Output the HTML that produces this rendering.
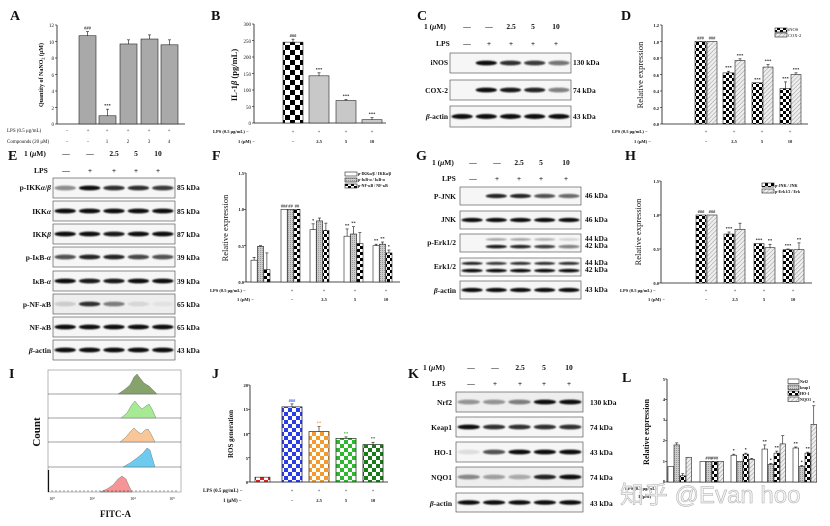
<!DOCTYPE html>
<html><head><meta charset="utf-8"><style>
html,body{margin:0;padding:0;background:#fff;}
svg{display:block;}
text{font-family:"Liberation Serif","Noto Serif CJK SC",serif;font-weight:bold;fill:#111;}
.pl{font-size:14px;}
.bl{font-size:7.5px;}
.sm{font-size:5px;font-weight:normal;}
.xs{font-size:4.5px;}
.ax{stroke:#111;stroke-width:1;fill:none;}
</style></head><body>
<svg id="s" width="830" height="526" viewBox="0 0 830 526" xmlns="http://www.w3.org/2000/svg">
<defs>
<pattern id="chk" width="6" height="6" patternUnits="userSpaceOnUse"><rect width="6" height="6" fill="#fff"/><rect width="3" height="3" fill="#000"/><rect x="3" y="3" width="3" height="3" fill="#000"/></pattern>
<pattern id="chkb" width="10" height="10" patternUnits="userSpaceOnUse"><rect width="10" height="10" fill="#fff"/><rect width="5" height="5" fill="#000"/><rect x="5" y="5" width="5" height="5" fill="#000"/></pattern>
<pattern id="hat" width="3" height="3" patternUnits="userSpaceOnUse" patternTransform="rotate(45)"><rect width="3" height="3" fill="#eee"/><line x1="0" y1="0" x2="0" y2="3" stroke="#999" stroke-width="1"/></pattern>
<pattern id="dot" width="2" height="2" patternUnits="userSpaceOnUse"><rect width="2" height="2" fill="#ccc"/><rect width="1" height="1" fill="#999"/></pattern>
<pattern id="cb" width="8" height="8" patternUnits="userSpaceOnUse"><rect width="8" height="8" fill="#fff"/><rect width="4" height="4" fill="#2a3ee8"/><rect x="4" y="4" width="4" height="4" fill="#2a3ee8"/></pattern>
<pattern id="co" width="8" height="8" patternUnits="userSpaceOnUse"><rect width="8" height="8" fill="#fff"/><rect width="4" height="4" fill="#f39a2a"/><rect x="4" y="4" width="4" height="4" fill="#f39a2a"/></pattern>
<pattern id="cg" width="8" height="8" patternUnits="userSpaceOnUse"><rect width="8" height="8" fill="#fff"/><rect width="4" height="4" fill="#2eb82e"/><rect x="4" y="4" width="4" height="4" fill="#2eb82e"/></pattern>
<pattern id="cd" width="8" height="8" patternUnits="userSpaceOnUse"><rect width="8" height="8" fill="#fff"/><rect width="4" height="4" fill="#1a7a1a"/><rect x="4" y="4" width="4" height="4" fill="#1a7a1a"/></pattern>
<pattern id="cr" width="8" height="8" patternUnits="userSpaceOnUse"><rect width="8" height="8" fill="#fff"/><rect width="4" height="4" fill="#d22"/><rect x="4" y="4" width="4" height="4" fill="#d22"/></pattern>
<filter id="bl" x="-20%" y="-50%" width="140%" height="200%"><feGaussianBlur stdDeviation="0.8"/></filter>
</defs>
<g id="g"></g>

<!-- panel letters -->
<text class="pl" x="10" y="20">A</text>
<text class="pl" x="211" y="20">B</text>
<text class="pl" x="417" y="20">C</text>
<text class="pl" x="621" y="20">D</text>
<text class="pl" x="8" y="160">E</text>
<text class="pl" x="212" y="160">F</text>
<text class="pl" x="416" y="160">G</text>
<text class="pl" x="625" y="160">H</text>
<text class="pl" x="9" y="378">I</text>
<text class="pl" x="212" y="378">J</text>
<text class="pl" x="408" y="378">K</text>
<text class="pl" x="622" y="382">L</text>

<!-- A -->
<g class="sm" text-anchor="end">
<text class="sm" x="54" y="126">0</text><text class="sm" x="54" y="110">2</text><text class="sm" x="54" y="93">4</text><text class="sm" x="54" y="77">6</text><text class="sm" x="54" y="60">8</text><text class="sm" x="54" y="44">10</text><text class="sm" x="54" y="27">12</text>
</g>
<text class="sm" transform="translate(43,75) rotate(-90)" text-anchor="middle" style="font-size:6px;font-weight:bold">Quantity of NaNO<tspan font-size="4" dy="1.5">2</tspan><tspan dy="-1.5"> (μM)</tspan></text>
<text class="sm" x="7" y="132">LPS (0.5 μg/mL)</text>
<text class="sm" x="7" y="143">Compounds (20 μM)</text>
<g class="sm" text-anchor="middle">
<text class="sm" x="67" y="132">−</text><text class="sm" x="88" y="132">+</text><text class="sm" x="107" y="132">+</text><text class="sm" x="128" y="132">+</text><text class="sm" x="149" y="132">+</text><text class="sm" x="169" y="132">+</text>
<text class="sm" x="67" y="143">−</text><text class="sm" x="88" y="143">−</text><text class="sm" x="107" y="143">1</text><text class="sm" x="128" y="143">2</text><text class="sm" x="149" y="143">3</text><text class="sm" x="169" y="143">4</text>
</g>

<!-- B -->
<g text-anchor="end">
<text class="sm" x="251" y="125">0</text><text class="sm" x="251" y="109">50</text><text class="sm" x="251" y="92">100</text><text class="sm" x="251" y="76">150</text><text class="sm" x="251" y="59">200</text><text class="sm" x="251" y="43">250</text><text class="sm" x="251" y="26">300</text>
</g>
<text transform="translate(237,75) rotate(-90)" text-anchor="middle" style="font-size:8.5px">IL-1<tspan font-style="italic">β</tspan> (pg/mL)</text>
<text class="xs" x="213" y="133">LPS (0.5 μg/mL)  −</text>
<text class="xs" x="238" y="143">1 (μM)  −</text>
<g text-anchor="middle" class="xs">
<text class="xs" x="293" y="133">+</text><text class="xs" x="319" y="133">+</text><text class="xs" x="346" y="133">+</text><text class="xs" x="372" y="133">+</text>
<text class="xs" x="293" y="143">−</text><text class="xs" x="319" y="143">2.5</text><text class="xs" x="346" y="143">5</text><text class="xs" x="372" y="143">10</text>
</g>

<!-- C -->
<text class="bl" x="424" y="29">1 (<tspan font-style="italic">μ</tspan>M)</text>
<text class="bl" x="436" y="46">LPS</text>
<g class="bl" text-anchor="middle">
<text class="bl" x="467" y="29">—</text><text class="bl" x="489" y="29">—</text><text class="bl" x="511" y="29">2.5</text><text class="bl" x="533" y="29">5</text><text class="bl" x="556" y="29">10</text>
<text class="bl" x="467" y="46">—</text><text class="bl" x="489" y="46">+</text><text class="bl" x="511" y="46">+</text><text class="bl" x="533" y="46">+</text><text class="bl" x="556" y="46">+</text>
</g>
<g class="bl" text-anchor="end">
<text class="bl" x="448" y="65">iNOS</text><text class="bl" x="448" y="93">COX-2</text><text class="bl" x="448" y="119"><tspan font-style="italic">β</tspan>-actin</text>
</g>
<text class="bl" x="573" y="65">130 kDa</text><text class="bl" x="573" y="93">74 kDa</text><text class="bl" x="573" y="119">43 kDa</text>

<!-- D -->
<g text-anchor="end">
<text class="xs" x="659" y="126">0.0</text><text class="xs" x="659" y="110">0.2</text><text class="xs" x="659" y="93">0.4</text><text class="xs" x="659" y="77">0.6</text><text class="xs" x="659" y="60">0.8</text><text class="xs" x="659" y="44">1.0</text><text class="xs" x="659" y="27">1.2</text>
</g>
<text transform="translate(643,75) rotate(-90)" text-anchor="middle" style="font-size:8.5px;font-weight:normal">Relative expression</text>
<text class="xs" x="612" y="133">LPS (0.5 μg/mL)  −</text>
<text class="xs" x="634" y="143">1 (μM)  −</text>
<g text-anchor="middle">
<text class="xs" x="706" y="133">+</text><text class="xs" x="734" y="133">+</text><text class="xs" x="762" y="133">+</text><text class="xs" x="790" y="133">+</text>
<text class="xs" x="706" y="143">−</text><text class="xs" x="734" y="143">2.5</text><text class="xs" x="762" y="143">5</text><text class="xs" x="790" y="143">10</text>
</g>
<text class="xs" x="788" y="31" style="font-weight:normal">iNOS</text><text class="xs" x="788" y="37" style="font-weight:normal">COX-2</text>

<!-- E -->
<text class="bl" x="24" y="156">1 (<tspan font-style="italic">μ</tspan>M)</text>
<text class="bl" x="34" y="173">LPS</text>
<g class="bl" text-anchor="middle">
<text class="bl" x="66" y="156">—</text><text class="bl" x="90" y="156">—</text><text class="bl" x="114" y="156">2.5</text><text class="bl" x="136" y="156">5</text><text class="bl" x="158" y="156">10</text>
<text class="bl" x="66" y="173">—</text><text class="bl" x="90" y="173">+</text><text class="bl" x="114" y="173">+</text><text class="bl" x="136" y="173">+</text><text class="bl" x="158" y="173">+</text>
</g>
<g class="bl" text-anchor="end">
<text class="bl" x="51" y="190">p-IKK<tspan font-style="italic">α</tspan>/<tspan font-style="italic">β</tspan></text>
<text class="bl" x="51" y="214">IKK<tspan font-style="italic">α</tspan></text>
<text class="bl" x="51" y="237">IKK<tspan font-style="italic">β</tspan></text>
<text class="bl" x="51" y="260">p-I<tspan font-style="italic">κ</tspan>B-<tspan font-style="italic">α</tspan></text>
<text class="bl" x="51" y="284">I<tspan font-style="italic">κ</tspan>B-<tspan font-style="italic">α</tspan></text>
<text class="bl" x="51" y="307">p-NF-<tspan font-style="italic">κ</tspan>B</text>
<text class="bl" x="51" y="330">NF-<tspan font-style="italic">κ</tspan>B</text>
<text class="bl" x="51" y="353"><tspan font-style="italic">β</tspan>-actin</text>
</g>
<g class="bl">
<text class="bl" x="177" y="190">85 kDa</text><text class="bl" x="177" y="214">85 kDa</text><text class="bl" x="177" y="237">87 kDa</text><text class="bl" x="177" y="260">39 kDa</text><text class="bl" x="177" y="284">39 kDa</text><text class="bl" x="177" y="307">65 kDa</text><text class="bl" x="177" y="330">65 kDa</text><text class="bl" x="177" y="353">43 kDa</text>
</g>

<!-- F -->
<g text-anchor="end">
<text class="xs" x="244" y="284">0.0</text><text class="xs" x="244" y="248">0.5</text><text class="xs" x="244" y="211">1.0</text><text class="xs" x="244" y="175">1.5</text>
</g>
<text transform="translate(228,228) rotate(-90)" text-anchor="middle" style="font-size:8.5px;font-weight:normal">Relative expression</text>
<text class="xs" x="210" y="292">LPS (0.5 μg/mL)  −</text>
<text class="xs" x="237" y="301">1 (μM)  −</text>
<g text-anchor="middle">
<text class="xs" x="292" y="292">+</text><text class="xs" x="324" y="292">+</text><text class="xs" x="355" y="292">+</text><text class="xs" x="386" y="292">+</text>
<text class="xs" x="292" y="301">−</text><text class="xs" x="324" y="301">2.5</text><text class="xs" x="355" y="301">5</text><text class="xs" x="386" y="301">10</text>
</g>
<text class="xs" x="358" y="175" style="font-size:4px">p-IKKα/β / IKKα/β</text>
<text class="xs" x="358" y="181" style="font-size:4px">p-IκB-α / IκB-α</text>
<text class="xs" x="358" y="187" style="font-size:4px">p-NF-κB / NF-κB</text>

<!-- G -->
<text class="bl" x="432" y="165">1 (<tspan font-style="italic">μ</tspan>M)</text>
<text class="bl" x="442" y="181">LPS</text>
<g class="bl" text-anchor="middle">
<text class="bl" x="473" y="165">—</text><text class="bl" x="497" y="165">—</text><text class="bl" x="519" y="165">2.5</text><text class="bl" x="541" y="165">5</text><text class="bl" x="566" y="165">10</text>
<text class="bl" x="473" y="181">—</text><text class="bl" x="497" y="181">+</text><text class="bl" x="519" y="181">+</text><text class="bl" x="541" y="181">+</text><text class="bl" x="566" y="181">+</text>
</g>
<g class="bl" text-anchor="end">
<text class="bl" x="456" y="199">P-JNK</text><text class="bl" x="456" y="222">JNK</text><text class="bl" x="456" y="245">p-Erk1/2</text><text class="bl" x="456" y="269">Erk1/2</text><text class="bl" x="456" y="293"><tspan font-style="italic">β</tspan>-actin</text>
</g>
<text class="bl" x="585" y="198">46 kDa</text><text class="bl" x="585" y="222">46 kDa</text><text class="bl" x="585" y="241">44 kDa</text><text class="bl" x="585" y="248">42 kDa</text><text class="bl" x="585" y="265">44 kDa</text><text class="bl" x="585" y="272">42 kDa</text><text class="bl" x="585" y="292">43 kDa</text>

<!-- H -->
<g text-anchor="end">
<text class="xs" x="659" y="285">0.0</text><text class="xs" x="659" y="251">0.5</text><text class="xs" x="659" y="217">1.0</text><text class="xs" x="659" y="183">1.5</text>
</g>
<text transform="translate(641,232) rotate(-90)" text-anchor="middle" style="font-size:8.5px;font-weight:normal">Relative expression</text>
<text class="xs" x="620" y="292">LPS (0.5 μg/mL)  −</text>
<text class="xs" x="648" y="301">1 (μM)  −</text>
<g text-anchor="middle">
<text class="xs" x="706" y="292">+</text><text class="xs" x="735" y="292">+</text><text class="xs" x="764" y="292">+</text><text class="xs" x="793" y="292">+</text>
<text class="xs" x="706" y="301">−</text><text class="xs" x="735" y="301">2.5</text><text class="xs" x="764" y="301">5</text><text class="xs" x="793" y="301">10</text>
</g>
<text class="xs" x="775" y="187" style="font-size:4px">p-JNK / JNK</text>
<text class="xs" x="775" y="193" style="font-size:4px">p-Erk1/2 / Erk</text>

<!-- I -->
<text transform="translate(40,432) rotate(-90)" text-anchor="middle" style="font-size:11px">Count</text>
<text x="100" y="517" style="font-size:9px">FITC-A</text>
<g text-anchor="middle" style="font-size:3.5px">
<text class="sm" x="52" y="500" style="font-size:4px">10⁰</text><text class="sm" x="92" y="500" style="font-size:4px">10²</text><text class="sm" x="133" y="500" style="font-size:4px">10⁴</text><text class="sm" x="172" y="500" style="font-size:4px">10⁵</text>
</g>

<!-- J -->
<g text-anchor="end">
<text class="xs" x="248" y="484">0</text><text class="xs" x="248" y="460">5</text><text class="xs" x="248" y="436">10</text><text class="xs" x="248" y="411">15</text><text class="xs" x="248" y="387">20</text>
</g>
<text transform="translate(233,434) rotate(-90)" text-anchor="middle" style="font-size:7px">ROS generation</text>
<text class="xs" x="203" y="492" style="font-size:5px">LPS (0.5 μg/mL)  −</text>
<text class="xs" x="223" y="502" style="font-size:5px">1 (μM)  −</text>
<g text-anchor="middle">
<text class="xs" x="292" y="492">+</text><text class="xs" x="319" y="492">+</text><text class="xs" x="346" y="492">+</text><text class="xs" x="373" y="492">+</text>
<text class="xs" x="292" y="502">−</text><text class="xs" x="319" y="502">2.5</text><text class="xs" x="346" y="502">5</text><text class="xs" x="373" y="502">10</text>
</g>

<!-- K -->
<text class="bl" x="423" y="370">1 (<tspan font-style="italic">μ</tspan>M)</text>
<text class="bl" x="432" y="386">LPS</text>
<g class="bl" text-anchor="middle">
<text class="bl" x="471" y="370">—</text><text class="bl" x="495" y="370">—</text><text class="bl" x="520" y="370">2.5</text><text class="bl" x="544" y="370">5</text><text class="bl" x="569" y="370">10</text>
<text class="bl" x="471" y="386">—</text><text class="bl" x="495" y="386">+</text><text class="bl" x="520" y="386">+</text><text class="bl" x="544" y="386">+</text><text class="bl" x="569" y="386">+</text>
</g>
<g class="bl" text-anchor="end">
<text class="bl" x="452" y="405">Nrf2</text><text class="bl" x="452" y="430">Keap1</text><text class="bl" x="452" y="455">HO-1</text><text class="bl" x="452" y="480">NQO1</text><text class="bl" x="452" y="506"><tspan font-style="italic">β</tspan>-actin</text>
</g>
<text class="bl" x="590" y="405">130 kDa</text><text class="bl" x="590" y="430">74 kDa</text><text class="bl" x="590" y="455">43 kDa</text><text class="bl" x="590" y="480">74 kDa</text><text class="bl" x="590" y="506">43 kDa</text>

<!-- L -->
<g text-anchor="end">
<text class="xs" x="665" y="483">0</text><text class="xs" x="665" y="463">1</text><text class="xs" x="665" y="442">2</text><text class="xs" x="665" y="421">3</text><text class="xs" x="665" y="401">4</text><text class="xs" x="665" y="381">5</text>
</g>
<text transform="translate(649,432) rotate(-90)" text-anchor="middle" style="font-size:8px">Relative expression</text>
<text class="xs" x="625" y="490">LPS (0.5 μg/mL)</text><text class="xs" x="638" y="498">1 (μM)</text>
<text class="xs" x="800" y="383" style="font-size:4px">Nrf2</text><text class="xs" x="800" y="389" style="font-size:4px">keap1</text><text class="xs" x="800" y="395" style="font-size:4px">HO-1</text><text class="xs" x="800" y="401" style="font-size:4px">NQO1</text>
<text x="620" y="503" style="font-family:'Liberation Sans','Noto Sans CJK SC',sans-serif;font-size:24px;font-weight:normal;fill:rgba(240,240,240,0.85);stroke:#aaa;stroke-width:0.5">知乎 @Evan hoo</text>
</svg>
<script>
var NS="http://www.w3.org/2000/svg",G=document.getElementById("g");
function el(t,a){var e=document.createElementNS(NS,t);for(var k in a)e.setAttribute(k,a[k]);G.appendChild(e);return e;}
function R(x,y,w,h,f,s){return el("rect",{x:x,y:y,width:w,height:h,fill:f,stroke:s||"#222","stroke-width":0.6});}
function L(x1,y1,x2,y2,w){el("line",{x1:x1,y1:y1,x2:x2,y2:y2,stroke:"#111","stroke-width":w||0.8});}
function stars(x,y,s,c){var t=el("text",{x:x,y:y,"text-anchor":"middle",style:"font-size:4.5px;fill:"+(c||"#111")});t.textContent=s;}
function axis(x,yt,yb,xe,ticks){L(x,yt,x,yb);L(x,yb,xe,yb);ticks.forEach(function(t){L(x-2,t,x,t,0.6);});}
function bar(x,w,top,base,f,err,st,sc){R(x,top,w,base-top,f);if(err){L(x+w/2,top,x+w/2,top-err,0.6);L(x+w/2-1.5,top-err,x+w/2+1.5,top-err,0.6);}if(st)stars(x+w/2,top-(err||0)-2,st,sc);}
// A
axis(57,25,124,185,[124,107.5,91,74.5,58,41.5,25]);
var sa=8.25;[[79,10.7,0.5,"###"],[99,1.0,0.8,"***"],[120,9.7,0.5],[141,10.3,0.5],[161,9.6,0.6]].forEach(function(b){bar(b[0],17,124-b[1]*sa,124,"#a9a9a9",b[2]*sa,b[3]);});
// B
axis(254,24,123,386,[123,106.5,90,73.5,57,40.5,24]);
var sb=0.33;bar(283,20,123-245*sb,123,"url(#chkb)",3,"###");bar(309,20,123-143*sb,123,"#c8c8c8",3,"***");bar(336,20,123-68*sb,123,"#c8c8c8",1,"***");bar(362,20,123-10*sb,123,"#c8c8c8",2,"***");
// D
axis(662,25,124,808,[124,107.5,91,74.5,58,41.5,25]);
var sd=82.5;[[695,1,0,"###"],[723,.62,.02,"***"],[752,.5,0,"***"],[780,.43,.08,"***"]].forEach(function(b){bar(b[0],11,124-b[1]*sd,124,"url(#chk)",b[2]*sd,b[3]);});
[[707,1,0,"###"],[735,.77,.02,"***"],[763,.69,.03,"***"],[791,.6,.02,"***"]].forEach(function(b){bar(b[0],10,124-b[1]*sd,124,"url(#hat)",b[2]*sd,b[3]);});
R(775,28,12,4,"url(#chk)");R(775,33,12,4,"url(#hat)");
// F
axis(246,173,282,400,[282,245.7,209.3,173]);
var sf=72.7;
var fg=[[251,[.3,.49,.17],[.04,.01,.23],["","",""]],[281,[1,1,1],[0,0,0],["###","##","##"]],[310,[.72,.84,.71],[.08,.04,.1],["*","",""]],[344,[.63,.66,.53],[.1,.1,.15],["**","**",""]],[373,[.5,.52,.4],[.02,.03,.04],["**","**","*"]]];
var ff=["#fff","url(#dot)","url(#chk)"];
fg.forEach(function(g){for(var i=0;i<3;i++)bar(g[0]+i*6.4,6.2,282-g[1][i]*sf,282,ff[i],g[2][i]*sf,g[3][i]);});
R(345,172,12,4,"#fff");R(345,178,12,4,"url(#dot)");R(345,184,12,4,"url(#chk)");
// H
axis(661,181,283,812,[283,249,215,181]);
var sh=68;[[696,1,0,"###"],[724,.72,.03,"***"],[754,.58,0,"***"],[783,.49,.01,"***"]].forEach(function(b){bar(b[0],10,283-b[1]*sh,283,"url(#chk)",b[2]*sh,b[3]);});
[[707,1,0,"###"],[735,.79,.09,""],[765,.52,.05,"**"],[794,.49,.1,"**"]].forEach(function(b){bar(b[0],10,283-b[1]*sh,283,"url(#hat)",b[2]*sh,b[3]);});
R(762,183,12,4,"url(#chk)");R(762,189,12,4,"url(#hat)");
// J
axis(250,385,482,388,[482,457.75,433.5,409.25,385]);
var sj=4.85;bar(255,15,482-1*sj,482,"url(#cr)",0);
[[282,15.5,.6,"###","url(#cb)","#2a3ee8"],[309,10.4,1,"**","url(#co)","#f39a2a"],[336,9.0,.3,"**","url(#cg)","#2eb82e"],[363,7.7,.5,"**","url(#cd)","#1a7a1a"]].forEach(function(b){R(b[0],482-b[1]*sj,20,b[1]*sj,b[4],b[5]);bar(b[0],20,482-b[1]*sj,482,"none",b[2]*sj,b[3],b[5]);});
// L
axis(667,379,482,817,[482,461.4,440.8,420.2,399.6,379]);
var sl=20.6,lf=["#fff","url(#dot)","url(#chk)","url(#hat)"];
var lg=[[668,[.75,1.8,.3,1.2],[0,.1,.1,0],["","","",""]],[700,[1,1,1,1],[0,0,0,0],["","###","###",""]],[731,[1.3,1,1.35,1.1],[.05,0,.05,.05],["*","","*",""]],[762,[1.6,.85,1.4,1.85],[.2,.05,.1,.4],["**","*","**",""]],[793,[1.65,.75,1.4,2.8],[.05,.05,.05,.9],["**","*","**","*"]]];
lg.forEach(function(g){for(var i=0;i<4;i++)bar(g[0]+i*6,5.5,482-g[1][i]*sl,482,lf[i],g[2][i]*sl,g[3][i]);});
[0,1,2,3].forEach(function(i){R(788,379+i*6,11,4.5,lf[i]);});
// blots
function blot(x,y,w,h,ints,opt){opt=opt||{};R(x,y,w,h,opt.bg||"#f6f6f6","#444");var lw=w/5;
 (opt.rows||[[0.5,1]]).forEach(function(rw,ri){var arr=ri?opt.ints2:ints;for(var i=0;i<5;i++){var v=arr[i];if(v<=0)continue;
 el("ellipse",{cx:x+lw*(i+0.5),cy:y+h*rw[0],rx:lw*0.44,ry:h*0.12*rw[1],fill:"#0a0a0a",opacity:v,filter:"url(#bl)"});}});}
// C
blot(450,53,121,20,[0,1,.85,.8,.55]);blot(450,80,121,20,[0,1,.95,.9,.5]);blot(450,106,121,21,[1,1,1,1,1]);
// E
var ey=[178,201,224,247,271,294,317,340],ei=[[.45,1,.85,.85,.8],[1,1,1,1,1],[1,1,.95,1,1],[.7,.9,.9,.75,.7],[1,.95,.95,1,1],[.15,.85,.5,.1,.05],[1,1,1,1,1],[1,1,1,1,1]];
ey.forEach(function(y,i){blot(53,y,122,20,ei[i],{bg:i==5?"#eeeeee":"#f6f6f6"});});
// G
blot(460,187,121,18,[0,.9,.9,.7,.6]);blot(460,211,121,18,[1,1,1,1,1]);
blot(460,234,121,18,[0,.35,.35,.3,.15],{rows:[[0.3,0.6],[0.7,0.8]],ints2:[0,.95,.9,.8,.5]});
blot(460,258,121,18,[.9,.8,.85,.85,.85],{rows:[[0.3,0.7],[0.7,0.8]],ints2:[1,1,1,1,1]});
blot(460,281,121,18,[1,1,1,1,1]);
// K
blot(456,392,127,20,[.4,.4,.5,1,1],{bg:"#eeeeee"});blot(456,417,127,20,[1,.85,.85,.85,.85]);blot(456,442,127,20,[.1,.7,1,1,1]);blot(456,467,127,20,[.45,.35,.3,.9,1],{bg:"#eeeeee"});blot(456,493,127,19,[1,1,1,1,1]);
// I flow
R(48,370,133,122,"#fff","#888");
[394,418,442,467].forEach(function(y){L(48,y,181,y,0.4);});
function hist(b,pts,c){var d="M"+pts[0][0]+","+b;pts.forEach(function(p){d+=" L"+p[0]+","+(b-p[1]);});d+=" L"+pts[pts.length-1][0]+","+b+" Z";el("path",{d:d,fill:c,stroke:"#555","stroke-width":0.4,opacity:0.9});}
hist(394,[[118,0],[124,4],[130,9],[134,17],[137,20],[140,16],[144,11],[149,8],[153,4],[157,0]],"#7a9a5e");
hist(418,[[121,0],[127,5],[131,12],[135,17],[138,13],[142,9],[146,12],[149,14],[152,9],[156,0]],"#9ee889");
hist(442,[[120,0],[126,5],[130,10],[134,14],[137,11],[141,8],[145,12],[148,13],[151,8],[155,0]],"#f8c08c");
hist(467,[[123,0],[130,4],[137,9],[143,14],[147,19],[150,17],[152,10],[155,0]],"#5ec6ee");
hist(492,[[100,0],[107,3],[113,7],[118,13],[122,16],[126,13],[129,6],[132,0]],"#f58a8a");
L(48.5,470,48.5,492,1.2);
for(var t=52;t<180;t+=4)L(t,492,t,490,0.4);
</script>
</body></html>
